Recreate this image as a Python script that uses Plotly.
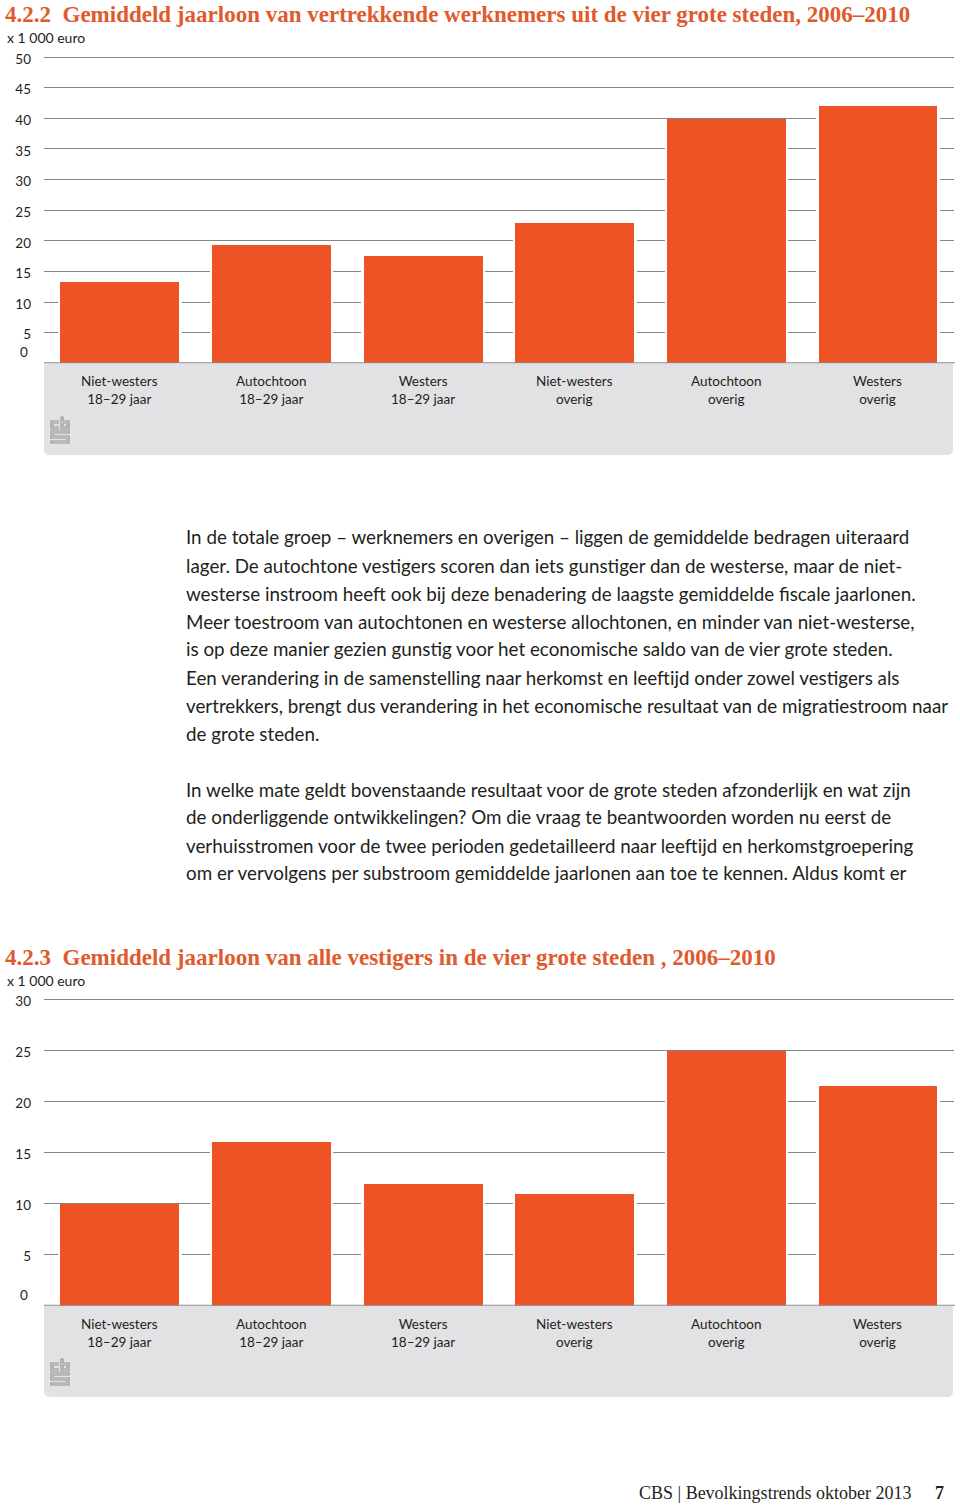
import plotly.graph_objects as go

# ---- data ----
categorieen_1 = ["Niet-westers", "Autochtoon", "Westers", "Niet-westers", "Autochtoon", "Westers"]
categorieen_2 = ["18–29 jaar", "18–29 jaar", "18–29 jaar", "overig", "overig", "overig"]
vertrekkers = [13.2, 19.2, 17.4, 22.8, 39.9, 41.9]      # 4.2.2, x 1 000 euro
vestigers = [10.0, 16.0, 11.9, 10.95, 25.0, 21.5]       # 4.2.3, x 1 000 euro
ticks_1 = [5, 10, 15, 20, 25, 30, 35, 40, 45, 50]
ticks_2 = [5, 10, 15, 20, 25, 30]

titel_1 = "4.2.2  Gemiddeld jaarloon van vertrekkende werknemers uit de vier grote steden, 2006–2010"
titel_2 = "4.2.3  Gemiddeld jaarloon van alle vestigers in de vier grote steden , 2006–2010"

tekst = [
    "In de totale groep – werknemers en overigen – liggen de gemiddelde bedragen uiteraard",
    "lager. De autochtone vestigers scoren dan iets gunstiger dan de westerse, maar de niet-",
    "westerse instroom heeft ook bij deze benadering de laagste gemiddelde fiscale jaarlonen.",
    "Meer toestroom van autochtonen en westerse allochtonen, en minder van niet-westerse,",
    "is op deze manier gezien gunstig voor het economische saldo van de vier grote steden.",
    "Een verandering in de samenstelling naar herkomst en leeftijd onder zowel vestigers als",
    "vertrekkers, brengt dus verandering in het economische resultaat van de migratiestroom naar",
    "de grote steden.",
    "",
    "In welke mate geldt bovenstaande resultaat voor de grote steden afzonderlijk en wat zijn",
    "de onderliggende ontwikkelingen? Om die vraag te beantwoorden worden nu eerst de",
    "verhuisstromen voor de twee perioden gedetailleerd naar leeftijd en herkomstgroepering",
    "om er vervolgens per substroom gemiddelde jaarlonen aan toe te kennen. Aldus komt er",
]

W, H = 960, 1505
ORANJE = "#ee5326"
TITELKLEUR = "#df5a2c"
GRIJS = "#e2e2e4"
LIJN = "#858585"
SANS = "Lato, 'Open Sans', sans-serif"
SERIF = "'Liberation Serif', 'DejaVu Serif', serif"


def px(x):
    return x / W


def py(y):
    return 1 - y / H


fig = go.Figure()
x_cat = list(range(6))

# white bars behind the orange ones give the little gaps in the gridlines
for waarden, xa, ya in [(vertrekkers, "x", "y"), (vestigers, "x2", "y2")]:
    fig.add_trace(go.Bar(x=x_cat, y=waarden, width=0.815, marker_color="white",
                         marker_line_width=0, xaxis=xa, yaxis=ya, hoverinfo="skip"))
    fig.add_trace(go.Bar(x=x_cat, y=waarden, width=0.784, marker_color=ORANJE,
                         marker_line_width=0, xaxis=xa, yaxis=ya))

as_stijl = dict(showgrid=True, gridcolor=LIJN, gridwidth=1, zeroline=False, showline=False,
                ticks="", tickfont=dict(family=SANS, size=13.5, color="#231f20"),
                ticklabelstandoff=12, ticklabelshift=2, fixedrange=True)

# pixel frame of both plots (0 line and top tick)
b1_top, b1_bot = 57.0, 363.3
b2_top, b2_bot = 999.7, 1305.7
x_left, x_right = 44.0, 953.8
extra = 1.025   # room above the top tick, otherwise plotly drops its gridline


def dom(top, bot):
    return [py(bot), py(bot - (bot - top) * extra)]


fig.update_layout(
    width=W, height=H, margin=dict(l=0, r=0, t=0, b=0),
    paper_bgcolor="white", plot_bgcolor="rgba(0,0,0,0)",
    barmode="overlay", showlegend=False, bargap=0,
    xaxis=dict(domain=[px(x_left), px(x_right)], range=[-0.5, 5.5], visible=False, fixedrange=True),
    yaxis=dict(domain=dom(b1_top, b1_bot), range=[0, 50 * extra], tickvals=ticks_1, **as_stijl),
    xaxis2=dict(domain=[px(x_left), px(x_right)], range=[-0.5, 5.5], visible=False,
                anchor="y2", fixedrange=True),
    yaxis2=dict(domain=dom(b2_top, b2_bot), range=[0, 30 * extra], tickvals=ticks_2,
                anchor="x2", **as_stijl),
)


def paneel(y0, y1):
    # grey panel under the axis, rounded lower corners
    x0, x1, r = px(44), px(953), 6
    ya, yb = py(y0), py(y1)
    rx, ry = r / W, r / H
    pad = (f"M {x0},{ya} L {x1},{ya} L {x1},{yb + ry} Q {x1},{yb} {x1 - rx},{yb} "
           f"L {x0 + rx},{yb} Q {x0},{yb} {x0},{yb + ry} Z")
    fig.add_shape(type="path", path=pad, xref="paper", yref="paper",
                  fillcolor=GRIJS, line_width=0, layer="below")


def logo(x, y):
    # rough outline of the cbs logo
    def p(pts):
        return " ".join(("M" if i == 0 else "L") + f" {px(x + a)},{py(y + b)}" for i, (a, b) in enumerate(pts))
    delen = [
        p([(9, 4), (1, 4), (1, 12), (9, 12)]),
        p([(9, 6), (3, 6), (3, 10), (9, 10)]),
        p([(11, 0), (13, 0), (13, 4), (19, 4), (19, 12), (11, 12), (11, 0)]),
        p([(13, 6), (17, 6), (17, 10), (13, 10), (13, 6)]),
        p([(1, 14), (19, 14), (19, 16), (3, 16), (3, 19), (19, 19), (19, 26), (1, 26),
           (1, 24), (17, 24), (17, 21), (1, 21), (1, 14)]),
    ]
    for d in delen:
        fig.add_shape(type="path", path=d, xref="paper", yref="paper",
                      line=dict(color="#8f8f8f", width=1.1))


for y_top, y_bot, xa, ya in [(b1_bot, 455, "x", "y"), (b2_bot, 1397, "x2", "y2")]:
    paneel(y_top, y_bot)
    logo(50, y_bot - 38)
    fig.add_shape(type="line", xref="paper", yref=ya, x0=px(44), x1=px(955), y0=0, y1=0,
                  line=dict(color="#8c8c8c", width=2))
    # "0" label sits a bit above the axis line
    fig.add_annotation(x=px(30), y=py(y_top - 11), xref="paper", yref="paper", text="0",
                       showarrow=False, xanchor="right", yanchor="middle",
                       font=dict(family=SANS, size=13.5, color="#231f20"))
    for i in x_cat:
        fig.add_annotation(x=i, y=py(y_top + 27), xref=xa, yref="paper",
                           text=categorieen_1[i] + "<br>" + categorieen_2[i],
                           showarrow=False, xanchor="center", yanchor="middle",
                           font=dict(family=SANS, size=13.5, color="#231f20"))

# titles and unit labels
for titel, ty, uy in [(titel_1, 15, 37), (titel_2, 957, 980)]:
    fig.add_annotation(x=px(3), y=py(ty), xref="paper", yref="paper", text=titel,
                       showarrow=False, xanchor="left", yanchor="middle",
                       font=dict(family=SERIF, size=23, color=TITELKLEUR, weight="bold"))
    fig.add_annotation(x=px(5), y=py(uy), xref="paper", yref="paper", text="x 1 000 euro",
                       showarrow=False, xanchor="left", yanchor="middle",
                       font=dict(family=SANS, size=14, color="#231f20"))

# body text between the charts
for n, regel in enumerate(tekst):
    if regel:
        fig.add_annotation(x=px(184), y=py(537 + 28 * n), xref="paper", yref="paper", text=regel,
                           showarrow=False, xanchor="left", yanchor="middle",
                           font=dict(family=SANS, size=18.8, color="#231f20"))

# footer
fig.add_annotation(x=px(914), y=py(1493), xref="paper", yref="paper",
                   text="CBS | Bevolkingstrends oktober 2013", showarrow=False,
                   xanchor="right", yanchor="middle",
                   font=dict(family=SERIF, size=18, color="#231f20"))
fig.add_annotation(x=px(946), y=py(1493), xref="paper", yref="paper", text="<b>7</b>",
                   showarrow=False, xanchor="right", yanchor="middle",
                   font=dict(family=SERIF, size=18, color="#231f20"))

# the page's default body margin would push the figure 8px down and right
fig.write_html("out.html", config={"displayModeBar": False},
               post_script="document.body.style.margin='0';")
